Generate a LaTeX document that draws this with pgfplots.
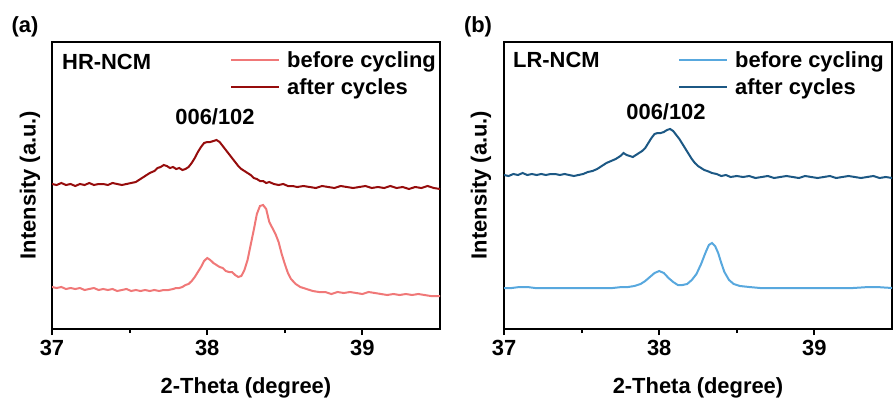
\documentclass[border=0pt]{standalone}
\usepackage{fontspec}
\setmainfont{Liberation Sans}
\usepackage{pgfplots}
\pgfplotsset{compat=1.18}
\definecolor{redL}{RGB}{240,120,120}
\definecolor{redD}{RGB}{150,12,12}
\definecolor{bluL}{RGB}{88,168,222}
\definecolor{bluD}{RGB}{28,88,132}
\newcommand\ff{\fontsize{22}{26}\selectfont\bfseries}

\pgfplotstableread{
x y
37.00 145
37.03 144
37.06 146
37.09 144
37.12 145
37.15 143
37.18 145
37.21 144
37.24 146
37.27 144
37.30 145
37.33 145
37.36 144
37.39 146
37.42 145
37.45 144
37.48 145
37.51 146
37.54 147
37.57 150
37.60 153
37.63 156
37.66 158
37.68 161
37.70 162
37.72 164
37.74 163
37.76 161
37.78 162
37.80 160
37.82 161
37.84 159
37.86 160
37.88 162
37.90 166
37.92 171
37.94 177
37.96 182
37.98 186
38.00 187
38.02 187
38.04 188
38.06 189
38.08 187
38.10 183
38.12 179
38.14 175
38.16 171
38.18 167
38.20 163
38.22 160
38.24 158
38.26 156
38.28 154
38.30 151
38.32 150
38.34 148
38.36 148
38.38 146
38.40 147
38.43 145
38.46 144
38.49 145
38.52 143
38.55 143
38.58 142
38.62 143
38.66 142
38.70 141
38.74 143
38.78 142
38.82 141
38.86 143
38.90 142
38.94 141
38.98 142
39.02 143
39.06 141
39.10 142
39.14 141
39.18 143
39.22 141
39.26 142
39.30 140
39.34 142
39.38 141
39.42 143
39.46 141
39.50 140
}\afterA

\pgfplotstableread{
x y
37.00 42
37.03 41
37.06 42
37.09 40
37.12 41
37.15 40
37.18 41
37.21 39
37.24 40
37.27 41
37.30 39
37.33 40
37.36 39
37.39 40
37.42 38
37.45 39
37.48 40
37.51 38
37.54 39
37.57 38
37.60 39
37.63 38
37.66 39
37.69 38
37.72 39
37.75 39
37.78 40
37.80 41
37.82 41
37.84 42
37.86 44
37.88 45
37.90 48
37.92 52
37.94 57
37.96 62
37.98 68
38.00 71
38.02 69
38.04 66
38.06 64
38.08 62
38.10 61
38.12 58
38.14 57
38.16 57
38.18 54
38.20 52
38.22 53
38.24 59
38.26 69
38.28 84
38.30 99
38.32 115
38.34 123
38.36 124
38.38 120
38.40 107
38.42 101
38.44 95
38.46 87
38.48 75
38.50 65
38.52 56
38.54 50
38.57 45
38.60 42
38.64 40
38.68 38
38.72 37
38.76 37
38.80 35
38.84 37
38.88 36
38.92 37
38.96 36
39.00 35
39.04 37
39.08 36
39.12 35
39.16 34
39.20 35
39.24 34
39.28 35
39.32 34
39.36 35
39.40 34
39.44 33
39.50 33
}\beforeA

\pgfplotstableread{
x y
37.00 154
37.03 153
37.06 155
37.09 154
37.12 156
37.15 154
37.18 155
37.21 154
37.24 155
37.27 154
37.30 155
37.33 155
37.36 154
37.39 155
37.42 154
37.45 153
37.48 154
37.51 155
37.54 157
37.57 158
37.60 160
37.63 163
37.66 166
37.69 168
37.72 170
37.75 173
37.77 176
37.79 174
37.81 173
37.83 172
37.85 174
37.87 176
37.89 178
37.91 181
37.93 186
37.95 191
37.97 195
37.99 196
38.01 196
38.03 197
38.05 199
38.07 200
38.09 198
38.11 194
38.13 190
38.15 185
38.17 180
38.19 175
38.21 170
38.23 166
38.25 163
38.27 161
38.29 159
38.31 158
38.34 156
38.37 155
38.40 153
38.43 154
38.46 152
38.50 153
38.54 152
38.58 153
38.62 151
38.66 152
38.70 153
38.74 151
38.78 152
38.82 153
38.86 152
38.90 151
38.94 153
38.98 152
39.02 151
39.06 152
39.10 153
39.14 151
39.18 152
39.22 153
39.26 152
39.30 151
39.34 152
39.38 153
39.42 151
39.46 152
39.50 151
}\afterB

\pgfplotstableread{
x y
37.00 41
37.05 41
37.10 42
37.15 42
37.20 41
37.30 41
37.40 41
37.50 41
37.60 41
37.70 41
37.76 42
37.80 42
37.84 43
37.88 45
37.91 48
37.94 52
37.97 56
38.00 58
38.03 56
38.06 51
38.09 47
38.12 44
38.15 44
38.18 45
38.21 49
38.24 55
38.27 65
38.30 77
38.32 84
38.34 86
38.36 83
38.38 76
38.40 66
38.42 57
38.45 49
38.48 45
38.52 43
38.58 42
38.65 41
38.80 41
38.95 41
39.10 41
39.25 41
39.35 42
39.40 42
39.50 41
}\beforeB

\pgfplotsset{xrdax/.style={
  scale only axis, width=388bp, height=287bp,
  xmin=37, xmax=39.5, ymin=0, ymax=287,
  xtick={37,38,39}, minor xtick={37.5,38.5}, ytick=\empty,
  xtick pos=bottom, tick align=outside,
  major tick length=6bp, minor tick length=4bp,
  axis line style={line width=2.2bp},
  every tick/.style={line width=2bp, black},
  /pgf/number format/assume math mode=true,
  xticklabel style={font=\ff, yshift=-2bp},
  legend style={draw=none, fill=none, font=\ff, at={(1,1)}, anchor=north east,
    xshift=-3bp, yshift=-8bp, inner sep=0pt, row sep=8bp,
    nodes={inner sep=1bp},
    /tikz/every odd column/.style={column sep=6bp}},
  legend image code/.code={\draw[#1, line width=2.2bp] (0bp,0bp) -- (48bp,0bp);},
  legend cell align=left,
}}

\begin{document}
\begin{tikzpicture}
\useasboundingbox (0,0) rectangle (893bp,-399bp);
\begin{axis}[xrdax, at={(52bp,-329bp)}, anchor=south west]
\addplot[redL, line width=2bp] table {\beforeA};
\addlegendentry{before cycling}
\addplot[redD, line width=2bp] table {\afterA};
\addlegendentry{after cycles}
\end{axis}
\begin{axis}[xrdax, at={(504bp,-329bp)}, anchor=south west, legend style={xshift=-4bp}]
\addplot[bluL, line width=2bp] table {\beforeB};
\addlegendentry{before cycling}
\addplot[bluD, line width=2bp] table {\afterB};
\addlegendentry{after cycles}
\end{axis}
\node[font=\ff, inner sep=0pt] at (25bp,-27bp) {(a)};
\node[font=\ff, inner sep=0pt] at (478bp,-27bp) {(b)};
\node[font=\ff, inner sep=0pt, anchor=west] at (62bp,-62bp) {HR-NCM};
\node[font=\ff, inner sep=0pt, anchor=west] at (513bp,-60bp) {LR-NCM};
\node[font=\ff, inner sep=0pt] at (215bp,-117bp) {006/102};
\node[font=\ff, inner sep=0pt] at (666bp,-112bp) {006/102};
\node[font=\ff, inner sep=0pt] at (246bp,-388bp) {2-Theta (degree)};
\node[font=\ff, inner sep=0pt] at (698bp,-388bp) {2-Theta (degree)};
\node[font=\ff, inner sep=0pt, rotate=90] at (30bp,-185bp) {Intensity (a.u.)};
\node[font=\ff, inner sep=0pt, rotate=90] at (481bp,-185bp) {Intensity (a.u.)};
\end{tikzpicture}
\end{document}
